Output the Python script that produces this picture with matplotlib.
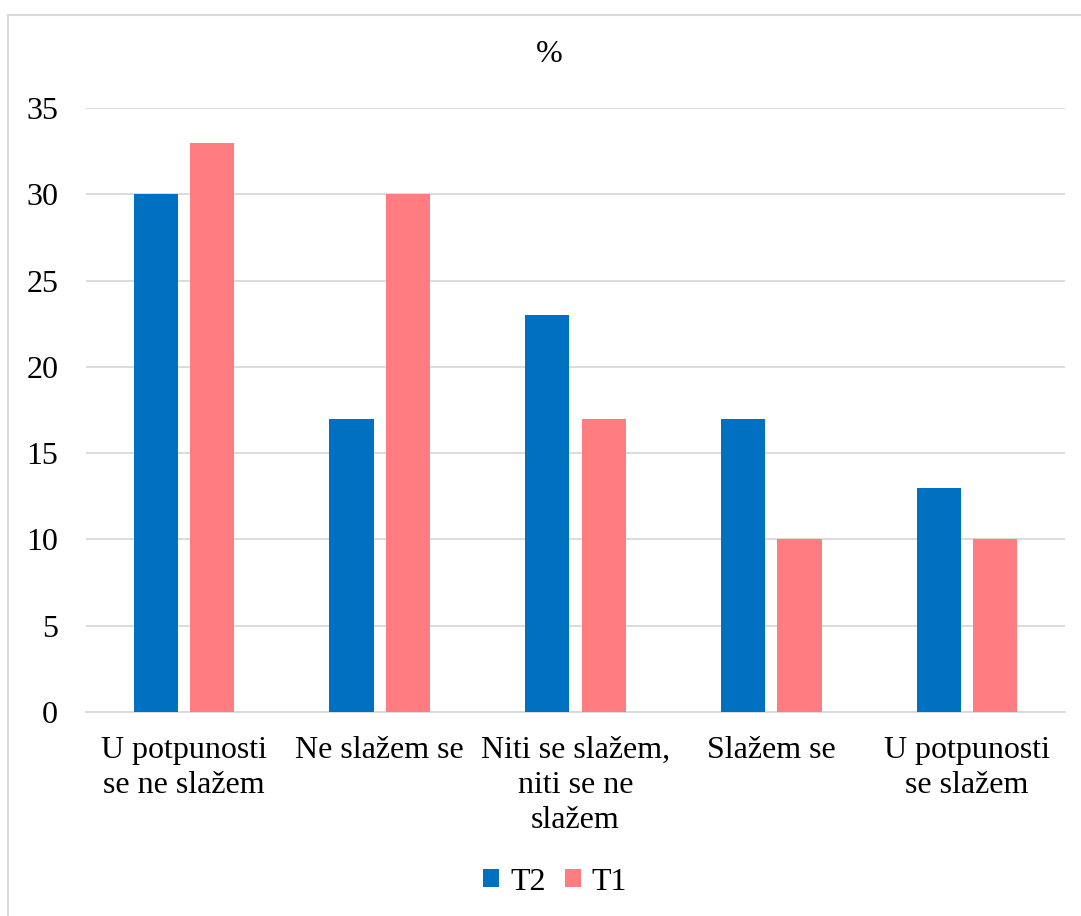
import numpy as np
import matplotlib.pyplot as plt
from matplotlib.patches import Rectangle

# kategorije odgovora
categories = ['U potpunosti\nse ne slažem', 'Ne slažem se', 'Niti se slažem,\nniti se ne\nslažem',
              'Slažem se', 'U potpunosti\nse slažem']
# postoci po mjerenju
t2 = [30, 17, 23, 17, 13]
t1 = [33, 30, 17, 10, 10]
y_ticks = [0, 5, 10, 15, 20, 25, 30, 35]

plt.rcParams['font.family'] = ['Liberation Serif', 'DejaVu Serif']

fig = plt.figure(figsize=(10.81, 9.16), dpi=100)
ax = fig.add_axes([86/1081, 1 - 712/916, (1065 - 86)/1081, (712 - 108)/916])

x = np.arange(len(categories))
w = 0.226
ax.bar(x - 0.144, t2, width=w, color='#0070C0', label='T2', zorder=3)
ax.bar(x + 0.144, t1, width=w, color='#FF7C80', label='T1', zorder=3)

ax.set_xlim(-0.5, len(categories) - 0.5)
ax.set_ylim(0, 35)
ax.set_yticks(y_ticks)
ax.set_xticks(x)
ax.set_xticklabels(categories, fontsize=23, linespacing=1.28, va='top')
ax.tick_params(axis='y', length=0, pad=20, labelsize=23)
ax.tick_params(axis='x', length=0, pad=17)
ax.grid(axis='y', color='#D9D9D9', linewidth=1.3, zorder=0)
for s in ['top', 'right', 'left']:
    ax.spines[s].set_visible(False)
ax.spines['bottom'].set_color('#D9D9D9')
ax.spines['bottom'].set_linewidth(1.3)

fig.text(549/1081, 1 - 55/916, '%', ha='center', va='center', fontsize=23)

fig.legend(loc='center', bbox_to_anchor=(555/1081, 1 - 882/916), ncol=2, frameon=False,
           fontsize=23, handlelength=0.5, handleheight=0.5, handletextpad=0.35, columnspacing=0.6)

fig.patches.append(Rectangle((8/1081, -0.05), 1.1, 1 - 15/916 + 0.05, transform=fig.transFigure,
                             fill=False, edgecolor='#D9D9D9', linewidth=1.5))

plt.savefig('out.png', dpi=100)
